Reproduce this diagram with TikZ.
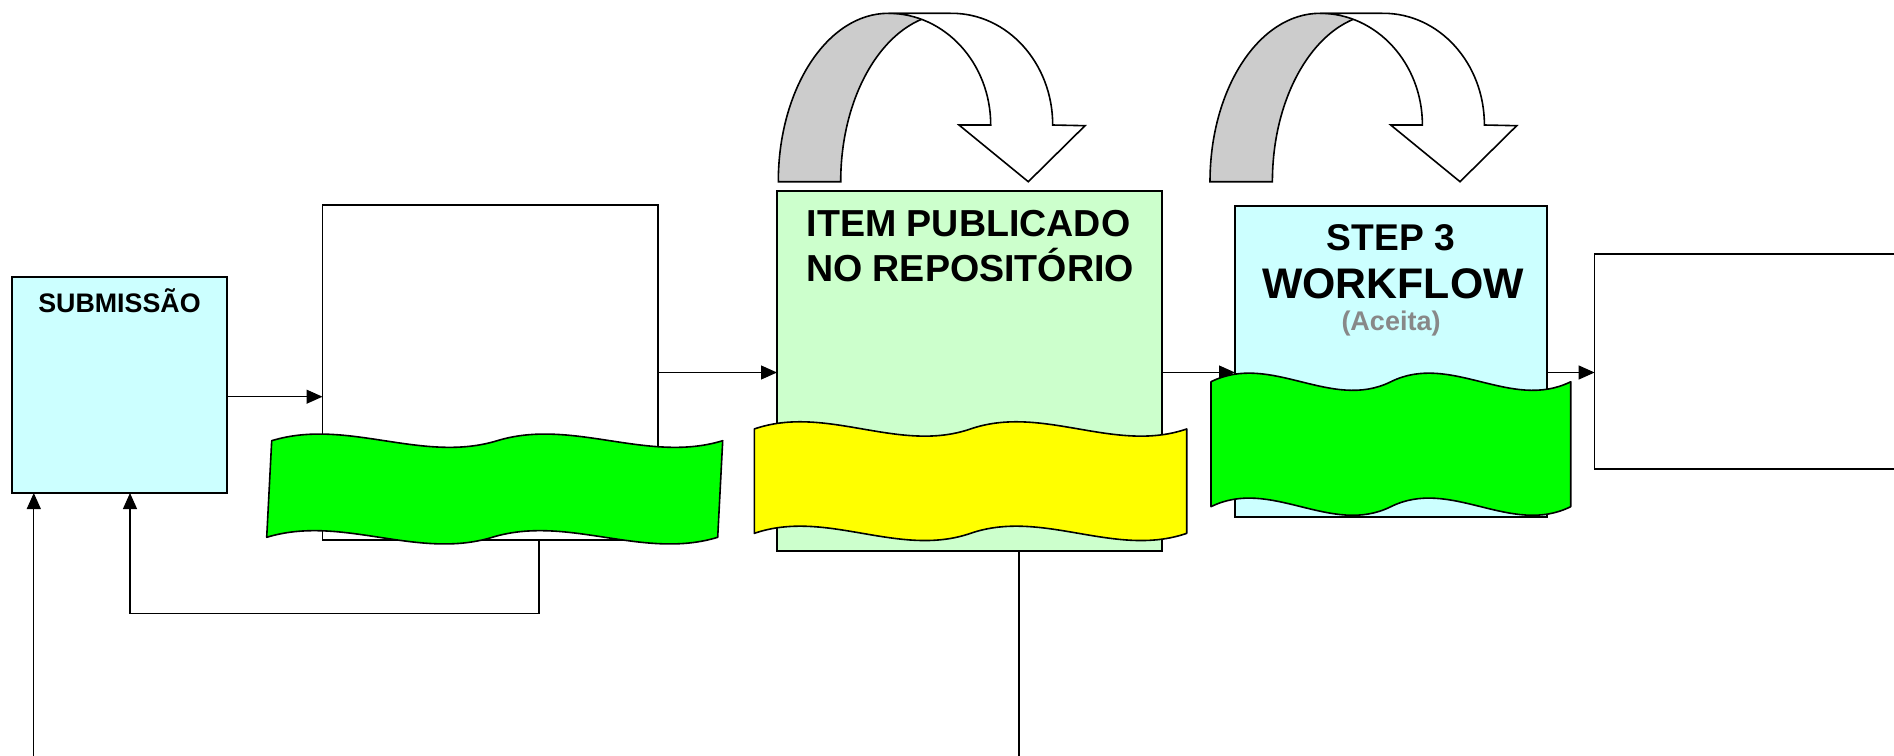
\documentclass[tikz,border=0pt]{standalone}
\usepackage{fontspec}
\setmainfont{Liberation Sans}
\usetikzlibrary{arrows.meta,calc}
\definecolor{lcyan}{HTML}{CCFFFF}
\definecolor{lgreen}{HTML}{CCFFCC}
\definecolor{vgreen}{HTML}{00FF00}
\definecolor{vyellow}{HTML}{FFFF00}
\definecolor{agray}{HTML}{CCCCCC}
\definecolor{tgray}{HTML}{888888}
\newcommand{\dblwave}[6]{%
 \pgfmathsetmacro{\dwH}{#4-(#2)}%
 \pgfmathsetmacro{\dwYa}{#2+0.0625*\dwH}%
 \pgfmathsetmacro{\dwYb}{#4-0.0625*\dwH}%
 \pgfmathsetmacro{\dwD}{0.0625*\dwH*10/3}%
 \pgfmathsetmacro{\dwTl}{#1+#5}%
 \pgfmathsetmacro{\dwW}{#3-\dwTl}%
 \pgfmathsetmacro{\dwBl}{#1}%
 \filldraw[wave,fill=#6] (\dwTl,\dwYa)
   .. controls ({\dwTl+\dwW/6},{\dwYa-\dwD}) and ({\dwTl+\dwW/3},{\dwYa+\dwD}) .. ({\dwTl+\dwW/2},\dwYa)
   .. controls ({\dwTl+2*\dwW/3},{\dwYa-\dwD}) and ({\dwTl+5*\dwW/6},{\dwYa+\dwD}) .. ({\dwTl+\dwW},\dwYa)
   -- ({\dwBl+\dwW},\dwYb)
   .. controls ({\dwBl+5*\dwW/6},{\dwYb+\dwD}) and ({\dwBl+2*\dwW/3},{\dwYb-\dwD}) .. ({\dwBl+\dwW/2},\dwYb)
   .. controls ({\dwBl+\dwW/3},{\dwYb+\dwD}) and ({\dwBl+\dwW/6},{\dwYb-\dwD}) .. (\dwBl,\dwYb)
   -- cycle;
}
\newcommand{\uturnarrow}[1]{%
 \begin{scope}[xshift=#1]
 \filldraw[cshape,fill=agray] (778.3,181.7) .. controls (778.3,88.7) and (827.5,13.3) .. (888.3,13.3)
   -- (950.7,13.3) .. controls (889.95,13.3) and (840.7,88.7) .. (840.7,181.7) -- cycle;
 \filldraw[cshape,fill=white] (888.3,13.3) -- (951.7,13.3)
   .. controls (1007.5,13.3) and (1052.7,63.3) .. (1052.7,125)
   -- (1085,125.7) -- (1028.3,181.7) -- (959,125) -- (990.7,125)
   .. controls (990.7,63.3) and (944.9,13.3) .. (888.3,13.3) -- cycle;
 \end{scope}
}
\tikzset{
 box/.style={draw=black,line width=0.8pt,inner sep=0pt,outer sep=0pt},
 conn/.style={draw=black,line width=0.6pt},
 arr/.style={conn,-{Triangle[length=8pt,width=7pt]}},
 wave/.style={draw=black,line width=0.8pt,line join=round},
 cshape/.style={draw=black,line width=0.8pt,line join=miter},
 lbl/.style={inner sep=0pt,anchor=base,font=\bfseries},
}
\begin{document}
\begin{tikzpicture}[x=0.5pt,y=-0.5pt]
\useasboundingbox (0,0) rectangle (1894,755);
% boxes
\node[box,fill=lcyan,minimum width=107.5pt,minimum height=108pt] (sub) at (119.5,385) {};
\node[box,fill=white,minimum width=167.75pt,minimum height=167.5pt] (b2) at (490.25,372.5) {};
\node[box,fill=lgreen,minimum width=192.5pt,minimum height=180pt] (pub) at (969.5,371) {};
\node[box,fill=lcyan,minimum width=156pt,minimum height=155.5pt] (wf) at (1391,361.5) {};
\node[box,fill=white,minimum width=157.7pt,minimum height=107.5pt] (rb) at (1752.3,361.2) {};
% texts
\node[lbl,font=\bfseries\fontsize{13.4pt}{15pt}\selectfont] (tsub) at (119.5,312.7) {SUBMISSÃO};
\node[lbl,font=\bfseries\fontsize{18.8pt}{22pt}\selectfont] (tpub1) at (968.5,236.7) {ITEM PUBLICADO};
\node[lbl,font=\bfseries\fontsize{18.8pt}{22pt}\selectfont] (tpub2) at (970,281) {NO REPOSITÓRIO};
\node[lbl,font=\bfseries\fontsize{18.6pt}{22pt}\selectfont] (twf1) at (1391,250) {STEP 3};
\node[lbl,font=\bfseries\fontsize{21.4pt}{25pt}\selectfont] (twf2) at (1393,298.3) {WORKFLOW};
\node[lbl,text=tgray,font=\bfseries\fontsize{13.5pt}{15pt}\selectfont] (twf3) at (1391,330) {(Aceita)};
% connectors
\draw[arr] ([yshift=-5.85pt]sub.east) -- ([yshift=-5.85pt]sub.east -| b2.west);
\draw[arr] (b2.east) -- (b2.east -| pub.west);
\draw[arr] (b2.east -| pub.east) -- (b2.east -| wf.west);
\draw[arr] (b2.east -| wf.east) -- (b2.east -| rb.west);
\draw[arr] ([xshift=24.4pt]b2.south) -- ++(0,73.3) -| ([xshift=5.25pt]sub.south);
\coordinate (inL) at (33.8,760);
\draw[arr] (inL) -- (inL |- sub.south);
\coordinate (outP) at (1019,760);
\draw[conn] (outP |- pub.south) -- (outP);
% waves
\dblwave{266.7}{433.8}{722.7}{544.2}{5}{vgreen}
\dblwave{754.3}{421.5}{1186.7}{540.8}{0}{vyellow}
\dblwave{1211}{372.8}{1570.7}{515.6}{0}{vgreen}
% curved arrows
\uturnarrow{0pt}
\uturnarrow{215.85pt}
\end{tikzpicture}
\end{document}
